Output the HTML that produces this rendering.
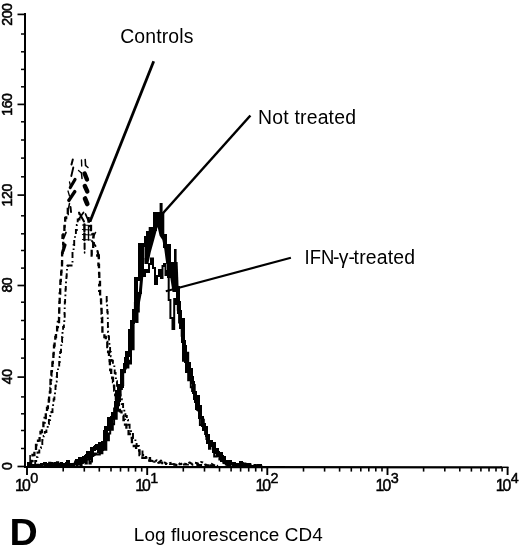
<!DOCTYPE html>
<html><head><meta charset="utf-8"><title>D</title>
<style>
html,body{margin:0;padding:0;background:#fff;}
body{width:520px;height:546px;overflow:hidden;}
svg{display:block;filter:grayscale(1);}
text{font-family:"Liberation Sans",sans-serif;fill:#000;}
</style></head><body>
<svg width="520" height="546" viewBox="0 0 520 546">
<rect width="520" height="546" fill="#fff"/>
<g stroke="#000" fill="none">
<line x1="25" y1="13" x2="25" y2="468" stroke-width="2"/>
<line x1="24" y1="467" x2="502" y2="467.4" stroke-width="2.2"/>
<line x1="500" y1="467.3" x2="508.5" y2="467.3" stroke-width="1.5"/>
<line x1="17.5" y1="14.4" x2="25" y2="14.4" stroke-width="1.7"/>
<line x1="21" y1="34.0" x2="25" y2="34.0" stroke-width="1.5"/>
<line x1="21" y1="51.8" x2="25" y2="51.8" stroke-width="1.5"/>
<line x1="21" y1="69.4" x2="25" y2="69.4" stroke-width="1.5"/>
<line x1="21" y1="86.8" x2="25" y2="86.8" stroke-width="1.5"/>
<line x1="17.5" y1="104.4" x2="25" y2="104.4" stroke-width="1.7"/>
<line x1="21" y1="121.8" x2="25" y2="121.8" stroke-width="1.5"/>
<line x1="21" y1="140.0" x2="25" y2="140.0" stroke-width="1.5"/>
<line x1="21" y1="158.1" x2="25" y2="158.1" stroke-width="1.5"/>
<line x1="21" y1="176.8" x2="25" y2="176.8" stroke-width="1.5"/>
<line x1="17.5" y1="195.1" x2="25" y2="195.1" stroke-width="1.7"/>
<line x1="21" y1="215.8" x2="25" y2="215.8" stroke-width="1.5"/>
<line x1="21" y1="233.8" x2="25" y2="233.8" stroke-width="1.5"/>
<line x1="21" y1="250.5" x2="25" y2="250.5" stroke-width="1.5"/>
<line x1="21" y1="268.1" x2="25" y2="268.1" stroke-width="1.5"/>
<line x1="17.5" y1="285.5" x2="25" y2="285.5" stroke-width="1.7"/>
<line x1="21" y1="302.2" x2="25" y2="302.2" stroke-width="1.5"/>
<line x1="21" y1="320.5" x2="25" y2="320.5" stroke-width="1.5"/>
<line x1="21" y1="339.2" x2="25" y2="339.2" stroke-width="1.5"/>
<line x1="21" y1="358.1" x2="25" y2="358.1" stroke-width="1.5"/>
<line x1="17.5" y1="377.1" x2="25" y2="377.1" stroke-width="1.7"/>
<line x1="21" y1="396.9" x2="25" y2="396.9" stroke-width="1.5"/>
<line x1="21" y1="413.8" x2="25" y2="413.8" stroke-width="1.5"/>
<line x1="21" y1="430.5" x2="25" y2="430.5" stroke-width="1.5"/>
<line x1="21" y1="448.5" x2="25" y2="448.5" stroke-width="1.5"/>
<line x1="17.5" y1="466.5" x2="25" y2="466.5" stroke-width="1.7"/>
<line x1="27.0" y1="467" x2="27.0" y2="475" stroke-width="1.9"/>
<line x1="63.2" y1="467" x2="63.2" y2="471.6" stroke-width="1.6"/>
<line x1="84.3" y1="467" x2="84.3" y2="471.6" stroke-width="1.6"/>
<line x1="99.3" y1="467" x2="99.3" y2="471.6" stroke-width="1.6"/>
<line x1="111.0" y1="467" x2="111.0" y2="471.6" stroke-width="1.6"/>
<line x1="120.5" y1="467" x2="120.5" y2="471.6" stroke-width="1.6"/>
<line x1="128.5" y1="467" x2="128.5" y2="471.6" stroke-width="1.6"/>
<line x1="135.5" y1="467" x2="135.5" y2="471.6" stroke-width="1.6"/>
<line x1="141.7" y1="467" x2="141.7" y2="471.6" stroke-width="1.6"/>
<line x1="147.2" y1="467" x2="147.2" y2="475" stroke-width="1.9"/>
<line x1="183.3" y1="467" x2="183.3" y2="471.6" stroke-width="1.6"/>
<line x1="204.5" y1="467" x2="204.5" y2="471.6" stroke-width="1.6"/>
<line x1="219.5" y1="467" x2="219.5" y2="471.6" stroke-width="1.6"/>
<line x1="231.1" y1="467" x2="231.1" y2="471.6" stroke-width="1.6"/>
<line x1="240.6" y1="467" x2="240.6" y2="471.6" stroke-width="1.6"/>
<line x1="248.7" y1="467" x2="248.7" y2="471.6" stroke-width="1.6"/>
<line x1="255.7" y1="467" x2="255.7" y2="471.6" stroke-width="1.6"/>
<line x1="261.8" y1="467" x2="261.8" y2="471.6" stroke-width="1.6"/>
<line x1="267.3" y1="467" x2="267.3" y2="475" stroke-width="1.9"/>
<line x1="303.5" y1="467" x2="303.5" y2="471.6" stroke-width="1.6"/>
<line x1="324.6" y1="467" x2="324.6" y2="471.6" stroke-width="1.6"/>
<line x1="339.6" y1="467" x2="339.6" y2="471.6" stroke-width="1.6"/>
<line x1="351.3" y1="467" x2="351.3" y2="471.6" stroke-width="1.6"/>
<line x1="360.8" y1="467" x2="360.8" y2="471.6" stroke-width="1.6"/>
<line x1="368.8" y1="467" x2="368.8" y2="471.6" stroke-width="1.6"/>
<line x1="375.8" y1="467" x2="375.8" y2="471.6" stroke-width="1.6"/>
<line x1="382.0" y1="467" x2="382.0" y2="471.6" stroke-width="1.6"/>
<line x1="387.5" y1="467" x2="387.5" y2="475" stroke-width="1.9"/>
<line x1="423.6" y1="467" x2="423.6" y2="471.6" stroke-width="1.6"/>
<line x1="444.8" y1="467" x2="444.8" y2="471.6" stroke-width="1.6"/>
<line x1="459.8" y1="467" x2="459.8" y2="471.6" stroke-width="1.6"/>
<line x1="471.4" y1="467" x2="471.4" y2="471.6" stroke-width="1.6"/>
<line x1="480.9" y1="467" x2="480.9" y2="471.6" stroke-width="1.6"/>
<line x1="489.0" y1="467" x2="489.0" y2="471.6" stroke-width="1.6"/>
<line x1="496.0" y1="467" x2="496.0" y2="471.6" stroke-width="1.6"/>
<line x1="502.1" y1="467" x2="502.1" y2="471.6" stroke-width="1.6"/>
<line x1="507.6" y1="467" x2="507.6" y2="475" stroke-width="1.9"/>
</g>
<g stroke="#000" fill="none" stroke-linejoin="miter">
<path d="M31.1 465.0V461.0H32.5V455.0H34.4V450.0H36.0V445.0H38.0V440.7H39.6V436.3H40.5V432.0H41.9V427.3H43.4V422.7H44.6V418.0H45.8V413.0H47.0V408.0H47.9V404.0H48.8V400.0H49.1V396.0H49.9V392.0H50.4V388.0H50.8V384.0H50.5V380.0H51.1V375.7H51.4V371.3H51.9V367.0H52.4V362.8H52.8V358.5H53.4V354.2H53.7V350.0H54.0V345.7H54.6V341.3H55.3V337.0H56.0V332.0H57.1V327.0H57.9V322.0H59.0V318.0H59.1V314.0H59.2V310.0H59.3V306.0H59.4V302.0H59.7V297.8H59.7V293.5H60.2V289.2H60.2V285.0H60.4V280.8H60.8V276.5H61.2V272.2H61.5V268.0H62.0V263.0H62.1V258.0H62.1V253.0H62.7V248.0H63.5V244.0H63.2V240.0H62.5V235.5H63.3V231.0H64.4V226.5H64.7V222.0H65.2V218.0H66.2V214.0H67.8V207.0H70.0" stroke-width="2.3" stroke-dasharray="6.5 3.5"/>
<path d="M88.6 217.0V221.5H90.0V226.0H91.0V230.0H92.3V234.0H93.5V239.0H93.7V244.0H93.2V251.0H91.7V255.5H98.8V260.2H98.4V265.0H99.0V269.3H99.1V273.7H99.3V278.0H100.0V285.0H99.2V290.8H100.1V296.5H101.0V300.8H101.1V305.1H101.4V309.4H101.6V313.7H101.7V318.0H102.2V322.0H101.9V326.0H102.4V331.5H104.4V337.0H105.8V342.0H107.3V347.0H108.1V352.0H109.0V356.5H109.6V361.0H109.9V365.5H110.2V370.0H111.2V374.0H112.2V378.0H113.0V382.0H114.0V386.3H114.2V390.7H115.2V395.0H115.9V399.0H117.4V403.0H118.9V407.0H119.9V411.3H121.5V415.7H123.5V420.0H125.0V424.7H126.4V429.3H128.6V434.0H129.8V438.0H131.9V442.0H133.8V446.0H136.1V450.5H139.5V455.0H142.4V457.8H146.3V460.5H150.0" stroke-width="2.3" stroke-dasharray="6.5 3.5"/>
<path d="M150.0 460.5L152.2 460.7L154.4 462.4L156.6 460.2L158.8 462.8L161.0 460.5L163.2 462.5L165.4 462.8L167.6 464.3L169.8 463.1L172.0 462.5L174.2 464.8L176.4 465.1L178.6 462.7L180.8 464.3L183.0 463.1L185.2 463.8L187.4 464.0L189.6 462.4L191.8 463.9L194.0 462.7L196.2 462.9L198.4 463.5L200.6 461.9L202.8 462.5L205.0 464.4L207.2 464.9L209.4 465.2L211.6 463.8L213.8 465.1L216.0 466.2L218.2 465.8" stroke-width="2.0" stroke-dasharray="4 2.2 2.5 2 5 2.5" stroke-linejoin="round"/>
<path d="M35.2 465.0V461.0H36.2V457.0H37.5V452.5H39.3V448.0H40.9V444.0H42.3V440.0H43.7V436.0H44.8V432.0H46.4V428.0H47.7V424.0H48.9V420.0H50.1V416.0H51.4V412.0H52.5V407.8H53.1V403.5H53.6V399.2H54.4V395.0H55.0V390.5H55.5V386.0H55.8V381.5H56.7V377.0H57.0V372.0H58.0V367.0H59.2V362.0H59.7V357.0H60.2V352.0H61.0V347.0H61.3V342.0H62.1V337.0H62.5V332.0H63.1V327.0H63.9V322.0H64.3V318.0H64.7V314.0H64.5V310.0H64.7V306.0H64.8V302.0H65.1V297.8H65.4V293.5H65.5V289.2H65.8V285.0H66.0V280.8H66.4V276.5H66.7V272.2H67.0V268.0H67.3V266.0H67.7V265.5H72.5V260.2H72.5V255.0H72.5V250.0H73.6V245.0H74.2V240.0H75.0V235.0H75.9V230.0H76.8V225.0H77.7V219.5H79.5V214.0H81.5" stroke-width="1.9" stroke-dasharray="6 3 1.6 3"/>
<path d="M106.7 296.0V301.5H107.1V307.0H107.3V312.0H107.7V317.0H107.8V322.0H107.9V327.0H108.1V332.0H108.6V337.0H109.0V342.0H109.4V347.0H110.1V352.0H110.8V356.3H111.7V360.7H112.9V365.0H114.3V369.0H114.7V373.0H115.6V377.0H115.9V381.3H117.0V385.7H118.2V390.0H119.1V394.7H120.3V399.3H121.8V404.0H123.1V408.0H124.3V412.0H125.4V416.0H126.8V420.0H128.0V424.7H129.6V429.3H131.0V434.0H133.0V438.0H135.4V442.0H136.6V446.0H138.9V450.5H142.5V455.0H146.0V458.0H150.2V461.0H154.2V461.8H158.2V462.5H162.2V463.2H165.9V464.0H170.0V464.1H173.9V464.2H178.1V464.4H181.9V464.5H185.9V464.6H190.3V464.8H194.0V464.9H197.9V465.0H202.1V465.1H205.8V465.2H209.9V465.4H213.9V465.5H218.0" stroke-width="1.9" stroke-dasharray="6 3 1.6 3"/>
<g><line x1="84.6" y1="173.5" x2="87.0" y2="179.5" stroke-width="4.4" stroke-linecap="round"/>
<line x1="84.8" y1="186.0" x2="87.3" y2="191.5" stroke-width="4.4" stroke-linecap="round"/>
<line x1="85.0" y1="198.5" x2="87.3" y2="204.0" stroke-width="4.6" stroke-linecap="round"/>
<line x1="81.5" y1="160.0" x2="81.7" y2="166.0" stroke-width="1.4" stroke-linecap="round"/>
<line x1="85.2" y1="159.5" x2="85.6" y2="165.5" stroke-width="1.6" stroke-linecap="round"/>
<line x1="85.6" y1="165.5" x2="88.0" y2="167.5" stroke-width="1.5" stroke-linecap="round"/>
<line x1="78.5" y1="170.5" x2="81.5" y2="173.0" stroke-width="1.3" stroke-linecap="round"/>
<line x1="81.5" y1="173.0" x2="82.0" y2="178.5" stroke-width="1.5" stroke-linecap="round"/>
<line x1="72.8" y1="159.5" x2="71.5" y2="164.5" stroke-width="2.0" stroke-linecap="round"/>
<line x1="73.3" y1="167.5" x2="71.3" y2="176.0" stroke-width="1.9" stroke-linecap="round"/>
<line x1="75.0" y1="179.5" x2="70.3" y2="187.5" stroke-width="3.2" stroke-linecap="round"/>
<line x1="69.5" y1="182.0" x2="70.5" y2="186.0" stroke-width="1.3" stroke-linecap="round"/>
<line x1="74.8" y1="191.5" x2="68.8" y2="200.5" stroke-width="3.3" stroke-linecap="round"/>
<line x1="68.0" y1="191.0" x2="69.5" y2="196.0" stroke-width="1.3" stroke-linecap="round"/>
<line x1="69.5" y1="203.5" x2="68.6" y2="208.0" stroke-width="1.5" stroke-linecap="round"/>
<line x1="70.5" y1="207.0" x2="71.0" y2="212.0" stroke-width="2.0" stroke-linecap="round"/>
<line x1="65.0" y1="245.0" x2="63.0" y2="251.0" stroke-width="3.2" stroke-linecap="round"/>
<line x1="66.0" y1="232.5" x2="63.5" y2="238.5" stroke-width="1.8" stroke-linecap="round"/>
<line x1="79.0" y1="212.5" x2="84.0" y2="221.5" stroke-width="2.0" stroke-linecap="round"/>
<line x1="83.5" y1="212.5" x2="78.5" y2="219.5" stroke-width="1.8" stroke-linecap="round"/>
<line x1="85.5" y1="214.0" x2="88.5" y2="221.0" stroke-width="1.8" stroke-linecap="round"/>
<line x1="82.5" y1="225.0" x2="91.0" y2="225.5" stroke-width="1.2" stroke-linecap="round"/>
<line x1="82.5" y1="229.5" x2="91.0" y2="230.0" stroke-width="1.2" stroke-linecap="round"/>
<line x1="82.5" y1="234.5" x2="91.0" y2="235.0" stroke-width="1.2" stroke-linecap="round"/>
<line x1="82.5" y1="239.5" x2="91.0" y2="240.0" stroke-width="1.2" stroke-linecap="round"/>
<line x1="84.4" y1="224.5" x2="84.4" y2="231.0" stroke-width="2.4" stroke-linecap="round"/>
<line x1="84.4" y1="233.5" x2="84.4" y2="240.0" stroke-width="2.4" stroke-linecap="round"/>
<line x1="84.6" y1="243.5" x2="84.6" y2="249.0" stroke-width="2.0" stroke-linecap="round"/>
<line x1="84.6" y1="252.0" x2="84.6" y2="253.0" stroke-width="1.6" stroke-linecap="round"/>
<line x1="88.5" y1="226.0" x2="88.5" y2="240.0" stroke-width="1.4" stroke-linecap="round"/>
<line x1="95.5" y1="232.5" x2="93.0" y2="237.5" stroke-width="1.6" stroke-linecap="round"/>
<line x1="92.0" y1="241.0" x2="95.5" y2="246.0" stroke-width="2.0" stroke-linecap="round"/>
<line x1="97.5" y1="251.0" x2="99.0" y2="258.0" stroke-width="2.2" stroke-linecap="round"/></g>
<path d="M79.0 463.3H80.3V458.5H81.6V459.2H82.9V460.8H84.2V457.5H85.5V456.4H86.8V455.9H88.1V452.8H89.4V457.7H90.7V452.6H92.0V449.0H93.3V448.8H94.6V447.7H95.9V447.1H97.2V445.7H98.5V451.6H99.8V443.7H101.1V448.8H102.4V442.6H103.7V444.1H105.0V431.9H106.3V427.4H107.6V429.2H108.9V418.6H110.2V424.3H111.5V417.7H112.8V413.8H114.1V414.2H115.4V403.1H116.7V391.5H118.0V400.2H119.3V385.8H120.6V385.8H121.9V370.6H123.2V371.6H124.5V364.9H125.8V358.7H127.1V353.1H128.4V355.0H129.7V330.4H131.0V339.7H132.3V321.8H133.6V311.0H134.9V310.8H136.2V279.0H139.7V244.7H146.0V238.0H148.0V233.0H150.4V228.7H155.2V214.3H162.6V235.7H165.3V246.2H168.8V276.0H173.8V288.0H178.0V303.0H179.1V312.0H180.4V327.2H181.7V319.7H183.0V341.5H184.3V346.5H185.6V360.9H186.9V370.8H188.2V364.2H189.5V369.9H190.8V378.0H192.1V382.4H193.4V392.6H194.7V398.5H196.0V401.3H197.3V397.2H198.6V407.0H199.9V417.4H201.2V417.4H202.5V425.2H203.8V429.0H205.1V427.7H206.4V435.4H207.7V441.9H209.0V442.1H210.3V441.6H211.6V444.1H212.9V443.6H214.2V451.1H215.5V449.8H216.8V452.5H218.1V455.1H219.4V454.3H220.7V456.4H222.0V460.1H223.3V457.7H224.6V462.6H225.9V461.5H227.2V462.2H228.5V462.0H229.8V463.9H231.1" stroke-width="3.7" shape-rendering="crispEdges"/>
<path d="M27.0 463.2H28.3V464.5H29.6V464.9H30.9V466.0H32.2V465.2H33.5V465.3H34.8V465.0H36.1V465.6H37.4V464.9H38.7V465.4H40.0V466.0H41.3V464.0H42.6V463.9H43.9V463.1H45.2V464.8H46.5V465.2H47.8V465.4H49.1V466.0H50.4V463.7H51.7V465.9H53.0V465.9H54.3V464.8H55.6V462.8H56.9V464.2H58.2V465.5H59.5V465.1H60.8V463.5H62.1V464.4H63.4V465.0H64.7V464.3H66.0V463.1H67.3V461.5H68.6V465.4H69.9V464.4H71.2V464.3H72.5V466.0H73.8V463.8H75.1V463.6H76.4V459.9H77.7V461.3H79.0V463.3H80.3" stroke-width="2.6" shape-rendering="crispEdges"/>
<path d="M228.5 462.0H229.8V463.9H231.1V463.3H232.4V463.8H233.7V462.8H235.0V465.3H236.3V464.6H237.6V465.3H238.9V466.0H240.2V462.5H241.5V465.2H242.8V466.0H244.1V464.0H245.4V466.0H246.7V465.1H248.0V464.7H249.3V466.0H250.6V465.9H251.9V466.0H253.2V465.8H254.5V466.0H255.8V466.0H257.1V466.0H258.4V465.2H259.7V465.6H261.0V465.1H262.3" stroke-width="2.6" shape-rendering="crispEdges"/>
<path d="M144.5 264.0L144.5 243.0L145.5 240.0L148.7 234.0L148.7 227.0L153.5 227.0L153.5 212.6L159.6 212.6L159.6 203.0L162.6 203.0L162.6 212.6L164.3 212.6L164.3 234.0L167.0 234.0L167.0 244.5L170.5 244.5L170.5 264.0L166.3 264.0L165.7 260.0L164.3 249.3L162.3 239.8L159.6 235.7L157.6 227.0L154.2 239.8L150.8 252.0L148.7 262.0L148.5 264.0Z" fill="#000" stroke="none"/>
<rect x="29.3" y="455" width="1.6" height="11" fill="#000" stroke="none"/>
<rect x="174" y="249" width="2.6" height="42" fill="#000" stroke="none"/>
<path d="M170 262H177.6L178.8 292H172.5L170 276Z" fill="#000" stroke="none"/>
<path d="M142.9 258L141.8 276L140.3 292.5L137.3 308.5L134.5 322" stroke-width="3.0"/>
<path d="M27.0 462.9H28.3V465.9H29.6V466.0H30.9V466.0H32.2V465.4H33.5V465.9H34.8V466.0H36.1V464.9H37.4V464.7H38.7V466.0H40.0V466.0H41.3V466.0H42.6V464.2H43.9V464.4H45.2V466.0H46.5V466.0H47.8V464.1H49.1V462.7H50.4V465.2H51.7V466.0H53.0V463.3H54.3V465.5H55.6V463.8H56.9V462.3H58.2V463.8H59.5V464.7H60.8V463.5H62.1V465.9H63.4V465.0H64.7V465.7H66.0V465.0H67.3V465.4H68.6V464.9H69.9V465.2H71.2V464.2H72.5V464.2H73.8V463.7H75.1V461.5H76.4V466.0H77.7V461.4H79.0V463.9H80.3V465.6H81.6V463.0H82.9V461.9H84.2V459.0H85.5V463.4H86.8V459.5H88.1V459.1H89.4V463.4H90.7V461.6H92.0V456.0H93.3V455.1H94.6V453.4H95.9V454.4H97.2V454.3H98.5V454.4H99.8V448.4H101.1V453.3H102.4V448.6H103.7V444.3H105.0V449.8H106.3V434.3H107.6V440.2H108.9V433.5H110.2V418.8H111.5V429.8H112.8V424.3H114.1V408.4H115.4V418.8H116.7V410.8H118.0V400.2H119.3V395.3H120.6V389.1H121.9V385.0H123.2V372.3H124.5V368.5H125.8V365.1H127.1V367.6H128.4V360.8H129.7V363.5H131.0V335.2H132.3V349.2H133.6V319.0H134.9V303.1H136.2V321.9H137.5V311.4H138.8V301.8H139.0V293.0H141.0V246.0H143.0V276.0H145.0V270.0H147.0V272.0H149.0V264.0H151.0V258.5H153.0V268.0H155.0V284.0H157.0V276.0H159.0V270.0H161.0V278.0H162.5V266.0H164.0V264.0H165.5V275.0H167.0V271.0H168.7V300.0H170.4V318.0H172.5V329.0H174.2V299.0H175.6V304.0H176.5V302.4H177.8V309.8H179.1V322.4H180.4V322.9H181.7V335.8H183.0V360.8H184.3V355.8H185.6V360.6H186.9V352.7H188.2V380.3H189.5V378.1H190.8V387.3H192.1V391.1H193.4V385.0H194.7V398.9H196.0V409.1H197.3V409.9H198.6V411.1H199.9V425.0H201.2V424.9H202.5V419.7H203.8V426.9H205.1V434.1H206.4V439.0H207.7V440.4H209.0V448.8H210.3V441.1H211.6V446.1H212.9V449.2H214.2V456.4H215.5V456.5H216.8V453.8H218.1V456.0H219.4V459.5H220.7V457.9H222.0V457.7H223.3V462.7H224.6V463.2H225.9V464.5H227.2V465.4H228.5V461.6H229.8V462.6H231.1V463.3H232.4V466.0H233.7V466.0H235.0V465.0H236.3V465.9H237.6V465.3H238.9V466.0H240.2V464.6H241.5V463.0H242.8V463.5H244.1V463.4H245.4V465.6H246.7V464.5H248.0V466.0H249.3V464.5H250.6V466.0H251.9V466.0H253.2V466.0H254.5V465.0H255.8V465.6H257.1V465.7H258.4V466.0H259.7V465.8H261.0V466.0H262.3" stroke-width="2"/>
</g>
<g stroke="#000" stroke-linecap="butt">
<line x1="153.7" y1="61.3" x2="90" y2="221.5" stroke-width="2.8"/>
<line x1="250.4" y1="115.5" x2="160" y2="216.5" stroke-width="2.5"/>
<line x1="290.9" y1="257.8" x2="165.8" y2="291.2" stroke-width="2.1"/>
</g>
<text x="120.2" y="42.8" font-size="19.4" textLength="73.2" lengthAdjust="spacing">Controls</text>
<text x="258" y="123.6" font-size="19.4" textLength="98" lengthAdjust="spacing">Not treated</text>
<text y="263.5" font-size="19.4"><tspan x="304.6" textLength="29.8" lengthAdjust="spacingAndGlyphs">IFN</tspan><tspan x="333.1">-</tspan><tspan x="338.8">γ</tspan><tspan x="348.6">-</tspan><tspan x="353.6" textLength="61.4" lengthAdjust="spacing">treated</tspan></text>
<text x="9.6" y="545" font-size="36.4" font-weight="bold" textLength="28.2" lengthAdjust="spacingAndGlyphs">D</text>
<text x="133.8" y="540.7" font-size="18.9" textLength="189" lengthAdjust="spacing">Log fluorescence CD4</text>
<text transform="translate(12.4 14.6) rotate(-90)" text-anchor="middle" font-size="14.2" letter-spacing="-0.5" stroke="#000" stroke-width="0.55">200</text>
<text transform="translate(12.4 104.6) rotate(-90)" text-anchor="middle" font-size="14.2" letter-spacing="-0.5" stroke="#000" stroke-width="0.55">160</text>
<text transform="translate(12.4 195.3) rotate(-90)" text-anchor="middle" font-size="14.2" letter-spacing="-0.5" stroke="#000" stroke-width="0.55">120</text>
<text transform="translate(12.4 285.2) rotate(-90)" text-anchor="middle" font-size="14.2" letter-spacing="-0.5" stroke="#000" stroke-width="0.55">80</text>
<text transform="translate(12.4 376.8) rotate(-90)" text-anchor="middle" font-size="14.2" letter-spacing="-0.5" stroke="#000" stroke-width="0.55">40</text>
<text transform="translate(12.4 466.2) rotate(-90)" text-anchor="middle" font-size="14.2" letter-spacing="-0.5" stroke="#000" stroke-width="0.55">0</text>
<text x="15.1" y="490.6" font-size="15.8" letter-spacing="-1.9" stroke="#000" stroke-width="0.45">10</text>
<text x="30.2" y="483.2" font-size="14.4" stroke="#000" stroke-width="0.45">0</text>
<text x="135.2" y="490.6" font-size="15.8" letter-spacing="-1.9" stroke="#000" stroke-width="0.45">10</text>
<text x="150.3" y="483.2" font-size="14.4" stroke="#000" stroke-width="0.45">1</text>
<text x="255.4" y="490.6" font-size="15.8" letter-spacing="-1.9" stroke="#000" stroke-width="0.45">10</text>
<text x="270.5" y="483.2" font-size="14.4" stroke="#000" stroke-width="0.45">2</text>
<text x="375.6" y="490.6" font-size="15.8" letter-spacing="-1.9" stroke="#000" stroke-width="0.45">10</text>
<text x="390.7" y="483.2" font-size="14.4" stroke="#000" stroke-width="0.45">3</text>
<text x="495.7" y="490.6" font-size="15.8" letter-spacing="-1.9" stroke="#000" stroke-width="0.45">10</text>
<text x="510.8" y="483.2" font-size="14.4" stroke="#000" stroke-width="0.45">4</text>
</svg>
</body></html>
